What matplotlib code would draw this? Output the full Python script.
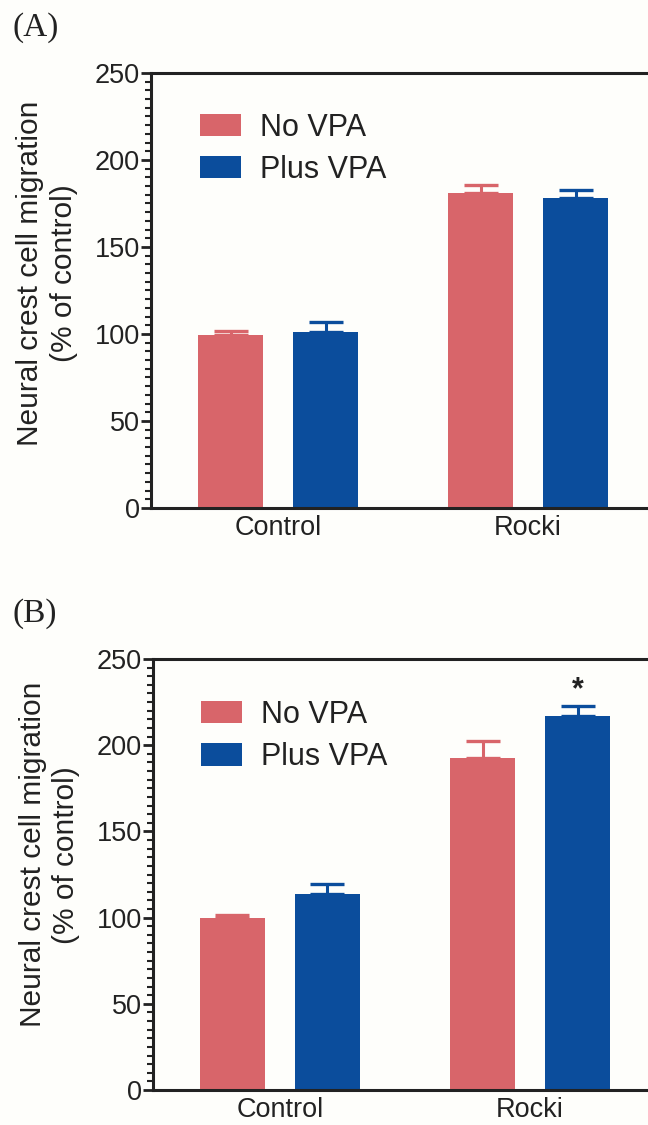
import matplotlib
matplotlib.use('Agg')
import matplotlib.pyplot as plt
from matplotlib.patches import Patch
from matplotlib.ticker import MultipleLocator
import numpy as np

# Data
groups = ["Control", "Rocki"]
series = ["No VPA", "Plus VPA"]

a_no_vpa = [99.2, 180.9]
a_no_vpa_err = [2.4, 4.7]
a_plus_vpa = [101.2, 178.4]
a_plus_vpa_err = [5.6, 4.1]

b_no_vpa = [100.0, 192.7]
b_no_vpa_err = [1.4, 9.5]
b_plus_vpa = [113.5, 216.9]
b_plus_vpa_err = [5.9, 6.1]

colors = ['#d8656a', '#0b4d9c']
ink = '#222222'
sans = ['Liberation Sans', 'DejaVu Sans']


def draw_panel(fig, rect, no_vpa, no_err, plus_vpa, plus_err, tag,
               label_xy, legend_xy, star=False):
    ax = fig.add_axes(rect)
    x = np.arange(len(groups))
    w, d = 0.26, 0.19

    for vals, errs, off, c in [(no_vpa, no_err, -d, colors[0]),
                               (plus_vpa, plus_err, d, colors[1])]:
        ax.bar(x + off, vals, width=w, color=c, zorder=2)
        ax.errorbar(x + off, vals, yerr=[np.zeros(len(errs)), errs],
                    fmt='none', ecolor=c, elinewidth=2.2, capsize=12,
                    capthick=2.4, zorder=2)

    if star:
        ax.text(x[1] + d, plus_vpa[1] + plus_err[1] + 0.3, "*",
                ha='center', va='bottom', fontsize=22, fontweight='bold',
                color=ink, family=sans)

    ax.set_xlim(-0.508, 1.508)
    ax.set_ylim(0, 250)
    ax.yaxis.set_major_locator(MultipleLocator(50))
    ax.yaxis.set_minor_locator(MultipleLocator(5))
    ax.set_xticks(x)
    ax.set_xticklabels(groups, fontsize=19.5, family=sans, color=ink)
    for lab in ax.get_yticklabels():
        lab.set_fontsize(19.5)
        lab.set_family(sans)
        lab.set_color(ink)

    for s in ax.spines.values():
        s.set_linewidth(2.2)
        s.set_color(ink)
    ax.tick_params(axis='y', which='major', length=7, width=2, color=ink, pad=1)
    ax.tick_params(axis='y', which='minor', length=4, width=1.5, color=ink)
    ax.tick_params(axis='x', length=0, pad=5)

    ax.set_ylabel("Neural crest cell migration\n(% of control)", fontsize=21.5,
                  family=sans, color=ink, linespacing=1.25)
    ax.yaxis.set_label_coords(*label_xy)

    handles = [Patch(facecolor=c, edgecolor='none') for c in colors]
    leg = ax.legend(handles, series, loc='upper left', bbox_to_anchor=legend_xy,
                    frameon=False, prop={'family': sans, 'size': 22},
                    handlelength=1.34, handleheight=0.75, handletextpad=0.62,
                    labelspacing=0.4, borderpad=0, borderaxespad=0)
    for t in leg.get_texts():
        t.set_color(ink)

    fig.text(0.02, rect[1] + rect[3] + 0.04, tag, fontsize=24,
             family=['Liberation Serif', 'DejaVu Serif'], color=ink, va='center')
    return ax


fig = plt.figure(figsize=(6.48, 11.25), dpi=100)
fig.patch.set_facecolor('#fefefb')

draw_panel(fig, [0.2330, 1 - 508 / 1125, 0.778, 435 / 1125],
           a_no_vpa, a_no_vpa_err, a_plus_vpa, a_plus_vpa_err, "(A)",
           label_xy=(-0.145, 0.54), legend_xy=(0.097, 0.909))
draw_panel(fig, [0.2360, 1 - 1090 / 1125, 0.778, 431 / 1125],
           b_no_vpa, b_no_vpa_err, b_plus_vpa, b_plus_vpa_err, "(B)",
           label_xy=(-0.144, 0.546), legend_xy=(0.095, 0.905), star=True)

for ax in fig.axes:
    ax.set_facecolor('none')

plt.savefig("out.png", dpi=100, facecolor=fig.get_facecolor())
plt.close(fig)
